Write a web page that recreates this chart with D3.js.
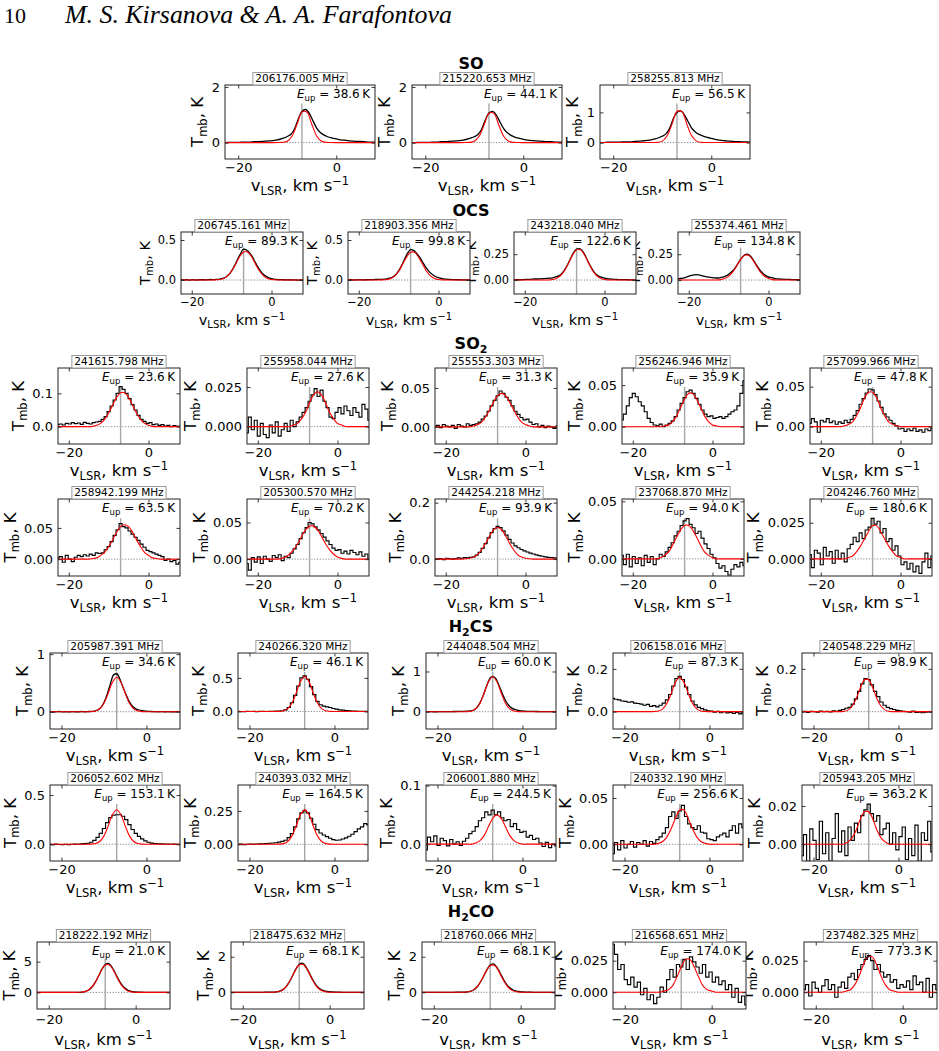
<!DOCTYPE html>
<html>
<head>
<meta charset="utf-8">
<script src="https://cdn.jsdelivr.net/npm/d3@7"></script>
<style>
  body { margin: 0; background: #fff; }
  text { font-family: "DejaVu Sans", sans-serif; }
  text.serif { font-family: "Liberation Serif", "DejaVu Serif", serif; }
</style>
</head>
<body>
<svg id="chart" width="939" height="1051"></svg>
<script>
// spectral axis
const velDomain = [-22.7, 7.9];
const vSys = -7;
const xTickVals = [-20, 0];
const chanVel = [-22.75,-22,-21.25,-20.5,-19.75,-19,-18.25,-17.5,-16.75,-16,
  -15.25,-14.5,-13.75,-13,-12.25,-11.5,-10.75,-10,-9.25,-8.5,
  -7.75,-7,-6.25,-5.5,-4.75,-4,-3.25,-2.5,-1.75,-1,
  -0.25,0.5,1.25,2,2.75,3.5,4.25,5,5.75,6.5,
  7.25,8];
const fitVel = [-16,-15,-14,-13,-12,-11,-10,-9,-8,-7,-6,-5,-4,-3,-2,-1,0,1,2,3];

// ---- SO ----
const soFreq = ["206176.005", "215220.653", "258255.813"];
const soEup = ["38.6", "44.1", "56.5"];
const soYDomain = [[-0.59, 2.07], [-0.59, 2.07], [-0.545, 1.91]];
const soYTicks = [[0, 2], [0, 2], [0, 1]];
const soYTickLabels = [["0", "2"], ["0", "2"], ["0", "1"]];
const soSpec = [
  [0.00,0.01,0.01,0.01,0.01,0.02,0.02,0.02,0.03,0.03,
   0.04,0.05,0.06,0.07,0.09,0.12,0.16,0.22,0.30,0.50,
   0.85,1.12,1.19,1.05,0.78,0.52,0.36,0.27,0.21,0.17,
   0.14,0.11,0.09,0.08,0.06,0.05,0.04,0.04,0.03,0.02,
   0.02,0.01],
  [0.00,0.00,0.01,0.01,0.01,0.01,0.02,0.02,0.03,0.03,
   0.04,0.05,0.06,0.07,0.09,0.12,0.16,0.21,0.29,0.48,
   0.81,1.06,1.12,0.99,0.74,0.50,0.35,0.26,0.20,0.16,
   0.13,0.10,0.08,0.07,0.06,0.05,0.04,0.03,0.03,0.02,
   0.02,0.01],
  [0.00,0.00,0.01,0.01,0.01,0.01,0.02,0.02,0.02,0.03,
   0.04,0.05,0.06,0.07,0.09,0.12,0.16,0.21,0.29,0.47,
   0.79,1.00,1.05,0.93,0.70,0.48,0.35,0.27,0.22,0.18,
   0.15,0.12,0.09,0.07,0.06,0.05,0.04,0.03,0.03,0.02,
   0.02,0.01]
];
const soFit = [
  [0,0,0,0,0.001,0.007,0.051,0.239,0.66,1.097,1.097,0.66,0.239,0.051,0.007,0.001,0,0,0,0],
  [0,0,0,0,0.001,0.006,0.049,0.228,0.632,1.051,1.051,0.632,0.228,0.049,0.006,0.001,0,0,0,0],
  [0,0,0,0,0.001,0.006,0.048,0.224,0.62,1.032,1.032,0.62,0.224,0.048,0.006,0.001,0,0,0,0]
];

// ---- OCS ----
const ocsFreq = ["206745.161", "218903.356", "243218.040", "255374.461"];
const ocsEup = ["89.3", "99.8", "122.6", "134.8"];
const ocsYDomain = [[-0.175, 0.6], [-0.175, 0.6], [-0.135, 0.465], [-0.135, 0.465]];
const ocsYTicks = [[0, 0.5], [0, 0.5], [0, 0.25], [0, 0.25]];
const ocsYTickLabels = [["0.0", "0.5"], ["0.0", "0.5"], ["0.00", "0.25"], ["0.00", "0.25"]];
const ocsSpec = [
  [0.005,0.000,0.003,-0.002,0.004,0.000,0.002,0.005,0.001,0.004,
   0.006,0.005,0.008,0.012,0.020,0.035,0.065,0.115,0.180,0.260,
   0.330,0.385,0.375,0.340,0.285,0.215,0.150,0.095,0.058,0.035,
   0.020,0.012,0.008,0.005,0.004,0.002,0.003,0.000,0.002,-0.002,
   0.001,0.000],
  [0.000,0.003,0.000,0.002,0.004,0.001,0.003,0.004,0.004,0.006,
   0.008,0.007,0.010,0.014,0.022,0.036,0.066,0.115,0.180,0.262,
   0.335,0.380,0.370,0.335,0.285,0.225,0.165,0.115,0.078,0.050,
   0.032,0.022,0.014,0.010,0.007,0.005,0.004,0.003,0.002,0.001,
   0.000,0.000],
  [0.003,0.004,0.002,0.005,0.006,0.006,0.008,0.010,0.010,0.012,
   0.014,0.016,0.018,0.022,0.030,0.040,0.062,0.098,0.150,0.210,
   0.265,0.300,0.305,0.280,0.230,0.170,0.115,0.072,0.045,0.030,
   0.020,0.014,0.010,0.008,0.006,0.005,0.004,0.004,0.003,0.002,
   0.002,0.002],
  [0.010,0.015,0.020,0.030,0.040,0.048,0.052,0.050,0.042,0.035,
   0.030,0.025,0.022,0.020,0.022,0.028,0.038,0.055,0.080,0.110,
   0.155,0.200,0.235,0.250,0.240,0.205,0.160,0.115,0.078,0.050,
   0.034,0.025,0.018,0.012,0.010,0.008,0.006,0.006,0.005,0.004,
   0.004,0.003]
];
const ocsFit = [
  [0,0,0.002,0.007,0.02,0.052,0.112,0.198,0.291,0.351,0.351,0.291,0.198,0.112,0.052,0.02,0.007,0.002,0,0],
  [0,0,0.002,0.006,0.02,0.051,0.11,0.196,0.286,0.346,0.346,0.286,0.196,0.11,0.051,0.02,0.006,0.002,0,0],
  [0,0,0.001,0.005,0.017,0.044,0.093,0.165,0.242,0.293,0.293,0.242,0.165,0.093,0.044,0.017,0.005,0.001,0,0],
  [0,0,0,0.001,0.004,0.014,0.036,0.076,0.135,0.198,0.239,0.239,0.198,0.135,0.076,0.036,0.014,0.004,0.001,0]
];

// ---- SO2 ----
const so2Freq = ["241615.798", "255958.044", "255553.303", "256246.946", "257099.966",
  "258942.199", "205300.570", "244254.218", "237068.870", "204246.760"];
const so2Eup = ["23.6", "27.6", "31.3", "35.9", "47.8", "63.5", "70.2", "93.9", "94.0", "180.6"];
const so2YDomain = [[-0.052, 0.176], [-0.011, 0.037], [-0.022, 0.0756], [-0.0208, 0.0705], [-0.0217, 0.0733],
  [-0.027, 0.0963], [-0.023, 0.082], [-0.06, 0.213], [-0.0149, 0.052], [-0.0118, 0.0414]];
const so2YTicks = [[0, 0.1], [0, 0.025], [0, 0.05], [0, 0.05], [0, 0.05],
  [0, 0.05], [0, 0.05], [0, 0.2], [0, 0.05], [0, 0.025]];
const so2YTickLabels = [["0.0", "0.1"], ["0.000", "0.025"], ["0.00", "0.05"], ["0.00", "0.05"], ["0.00", "0.05"],
  ["0.00", "0.05"], ["0.00", "0.05"], ["0.0", "0.2"], ["0.00", "0.05"], ["0.000", "0.025"]];
const so2Spec = [
  [0.006,0.008,0.005,0.010,0.008,0.012,0.009,0.011,0.007,0.013,
   0.010,0.008,0.012,0.014,0.016,0.022,0.030,0.045,0.062,0.080,
   0.100,0.120,0.112,0.100,0.084,0.066,0.050,0.034,0.022,0.016,
   0.010,0.012,0.006,0.008,0.004,0.006,0.002,0.004,0.000,0.003,
   0.001,0.002],
  [-0.004,0.006,-0.002,0.004,-0.006,0.002,-0.005,-0.007,0.001,-0.004,
   0.003,-0.006,-0.002,0.002,-0.003,0.004,0.000,0.003,0.006,0.009,
   0.012,0.016,0.020,0.024,0.019,0.023,0.016,0.012,0.006,0.005,
   0.009,0.012,0.008,0.013,0.010,0.007,0.012,0.009,0.006,0.014,
   0.011,0.004],
  [0.000,0.002,-0.001,0.003,0.001,0.000,0.002,-0.002,0.003,0.001,
   0.000,0.004,0.002,0.003,0.004,0.006,0.010,0.014,0.020,0.027,
   0.034,0.040,0.046,0.043,0.038,0.034,0.027,0.020,0.016,0.012,
   0.009,0.010,0.006,0.003,0.004,0.000,0.002,-0.001,0.001,0.000,
   -0.002,0.001],
  [0.008,0.015,0.025,0.035,0.040,0.036,0.030,0.025,0.018,0.010,
   0.005,0.002,0.001,0.003,0.000,0.002,0.004,0.007,0.012,0.020,
   0.028,0.035,0.042,0.044,0.040,0.034,0.027,0.020,0.015,0.012,
   0.013,0.010,0.011,0.012,0.010,0.012,0.015,0.018,0.020,0.025,
   0.040,0.055],
  [0.004,0.010,0.006,-0.007,0.008,0.006,0.010,0.005,0.007,0.003,
   0.006,0.004,0.008,0.005,0.009,0.014,0.020,0.028,0.035,0.042,
   0.047,0.046,0.040,0.032,0.024,0.016,0.012,0.008,0.004,0.001,
   -0.003,-0.002,-0.006,-0.003,-0.005,-0.002,-0.006,-0.004,-0.007,-0.003,
   -0.005,-0.002],
  [0.002,0.004,-0.005,0.006,0.000,-0.004,0.003,0.006,0.004,0.007,
   0.005,0.008,0.006,0.010,0.009,0.010,0.015,0.020,0.028,0.038,
   0.047,0.057,0.052,0.050,0.045,0.040,0.035,0.030,0.024,0.019,
   0.014,0.012,0.010,0.008,0.006,0.004,-0.002,0.000,-0.004,-0.002,
   -0.008,-0.005],
  [-0.006,-0.015,0.002,-0.004,0.003,-0.006,0.004,0.000,-0.003,0.005,
   0.002,0.006,-0.002,0.004,0.002,0.008,0.014,0.020,0.028,0.036,
   0.043,0.050,0.048,0.044,0.040,0.035,0.030,0.025,0.020,0.015,
   0.012,0.013,0.008,0.011,0.007,0.012,0.009,0.006,0.010,0.004,
   0.007,0.000],
  [0.001,0.000,0.002,-0.002,0.003,0.001,0.000,0.002,0.004,0.003,
   0.005,0.004,0.006,0.008,0.014,0.024,0.038,0.055,0.075,0.094,
   0.108,0.116,0.112,0.100,0.085,0.070,0.057,0.047,0.040,0.034,
   0.029,0.025,0.021,0.018,0.015,0.012,0.010,0.008,0.006,0.005,
   0.004,0.003],
  [0.003,-0.005,0.004,-0.007,0.002,-0.004,0.001,-0.006,0.003,-0.003,
   0.002,-0.005,0.000,0.004,0.002,0.006,0.010,0.014,0.020,0.024,
   0.029,0.033,0.035,0.030,0.027,0.022,0.024,0.018,0.013,0.009,
   0.004,0.001,-0.004,-0.008,-0.006,-0.011,-0.014,-0.009,-0.005,-0.007,
   -0.003,-0.006],
  [0.003,-0.006,0.006,0.004,-0.004,0.008,0.002,0.005,-0.003,0.006,
   0.000,0.004,-0.002,0.007,0.010,0.015,0.012,0.018,0.014,0.020,
   0.022,0.028,0.024,0.026,0.018,0.021,0.012,0.014,0.006,0.009,
   0.002,-0.004,-0.002,-0.007,-0.003,-0.009,-0.005,-0.010,-0.002,0.004,
   -0.006,0.002]
];
const so2Fit = [
  [0,0,0.001,0.004,0.01,0.022,0.041,0.064,0.088,0.102,0.102,0.088,0.064,0.041,0.022,0.01,0.004,0.001,0,0],
  [0,0,0,0,0,0.001,0.002,0.005,0.009,0.015,0.02,0.022,0.02,0.015,0.009,0.005,0.002,0.001,0,0],
  [0,0,0,0.001,0.003,0.006,0.013,0.022,0.032,0.04,0.043,0.04,0.032,0.022,0.013,0.006,0.003,0.001,0,0],
  [0,0,0,0,0.001,0.002,0.006,0.013,0.023,0.033,0.04,0.04,0.033,0.023,0.013,0.006,0.002,0.001,0,0],
  [0,0,0.001,0.003,0.006,0.014,0.024,0.036,0.043,0.043,0.036,0.024,0.014,0.006,0.003,0.001,0,0,0,0],
  [0,0,0.001,0.002,0.006,0.011,0.02,0.031,0.043,0.052,0.055,0.052,0.043,0.031,0.02,0.011,0.006,0.002,0.001,0],
  [0,0,0.001,0.003,0.007,0.013,0.021,0.031,0.04,0.045,0.045,0.04,0.031,0.021,0.013,0.007,0.003,0.001,0,0],
  [0,0.001,0.003,0.007,0.016,0.033,0.056,0.082,0.104,0.112,0.104,0.082,0.056,0.033,0.016,0.007,0.003,0.001,0,0],
  [0,0,0,0.001,0.003,0.006,0.012,0.019,0.025,0.029,0.029,0.025,0.019,0.012,0.006,0.003,0.001,0,0,0],
  [0,0,0,0.001,0.002,0.005,0.009,0.014,0.019,0.023,0.023,0.019,0.014,0.009,0.005,0.002,0.001,0,0,0]
];

// ---- H2CS ----
const h2csFreq = ["205987.391", "240266.320", "244048.504", "206158.016", "240548.229",
  "206052.602", "240393.032", "206001.880", "240332.190", "205943.205"];
const h2csEup = ["34.6", "46.1", "60.0", "87.3", "98.9", "153.1", "164.5", "244.5", "256.6", "363.2"];
const h2csYDomain = [[-0.30, 1.02], [-0.26, 0.87], [-0.43, 1.46], [-0.081, 0.274], [-0.081, 0.274],
  [-0.17, 0.602], [-0.125, 0.444], [-0.0288, 0.101], [-0.018, 0.064], [-0.0088, 0.031]];
const h2csYTicks = [[0, 1], [0, 0.5], [0, 1], [0, 0.2], [0, 0.2],
  [0, 0.5], [0, 0.25], [0, 0.1], [0, 0.05], [0, 0.02]];
const h2csYTickLabels = [["0", "1"], ["0.0", "0.5"], ["0", "1"], ["0.0", "0.2"], ["0.0", "0.2"],
  ["0.0", "0.5"], ["0.00", "0.25"], ["0.0", "0.1"], ["0.00", "0.05"], ["0.00", "0.02"]];
const h2csSpec = [
  [0.005,-0.005,0.000,0.004,-0.003,0.002,-0.004,0.003,0.000,-0.002,
   0.004,0.000,0.003,0.006,0.012,0.030,0.070,0.160,0.300,0.480,
   0.640,0.660,0.570,0.420,0.290,0.170,0.090,0.050,0.030,0.018,
   0.010,0.006,0.004,0.002,0.000,0.003,-0.002,0.001,0.000,-0.003,
   0.002,0.000],
  [0.003,0.000,-0.002,0.003,0.000,0.002,-0.002,0.001,0.003,0.000,
   0.004,0.003,0.005,0.008,0.012,0.025,0.060,0.130,0.240,0.380,
   0.500,0.530,0.480,0.370,0.250,0.150,0.100,0.080,0.070,0.060,
   0.045,0.035,0.025,0.020,0.015,0.010,0.008,0.006,0.004,0.003,
   0.002,0.002],
  [0.000,0.002,0.000,-0.003,0.002,0.000,0.003,0.002,0.004,0.005,
   0.006,0.008,0.010,0.014,0.020,0.040,0.100,0.220,0.400,0.620,
   0.810,0.880,0.820,0.650,0.450,0.280,0.160,0.090,0.055,0.035,
   0.022,0.015,0.010,0.008,0.006,0.005,0.004,0.003,0.003,0.002,
   0.002,0.001],
  [0.062,0.058,0.055,0.050,0.048,0.044,0.046,0.040,0.038,0.035,
   0.030,0.034,0.025,0.028,0.022,0.030,0.040,0.055,0.080,0.120,
   0.155,0.165,0.150,0.115,0.080,0.050,0.032,0.020,0.014,0.008,
   0.004,0.003,-0.002,0.002,-0.005,0.000,-0.006,-0.003,-0.008,-0.004,
   -0.010,-0.006],
  [0.000,0.002,-0.003,0.002,0.000,-0.002,0.003,0.000,0.002,-0.001,
   0.004,0.002,0.006,0.010,0.016,0.020,0.035,0.060,0.095,0.130,
   0.155,0.150,0.125,0.095,0.070,0.045,0.030,0.020,0.014,0.010,
   0.006,0.004,0.002,0.000,-0.002,0.003,-0.004,-0.002,-0.005,-0.002,
   0.000,-0.002],
  [0.000,-0.003,0.002,-0.002,-0.005,0.000,-0.004,0.000,0.002,0.000,
   0.004,0.006,0.010,0.020,0.040,0.070,0.110,0.160,0.220,0.270,
   0.295,0.300,0.300,0.285,0.250,0.200,0.150,0.110,0.080,0.055,
   0.035,0.020,0.012,0.008,0.005,0.004,0.002,0.003,0.000,0.002,
   0.000,0.000],
  [0.000,0.001,-0.002,0.000,0.002,0.000,0.002,0.003,0.004,0.006,
   0.008,0.010,0.012,0.016,0.022,0.030,0.050,0.080,0.130,0.190,
   0.235,0.250,0.235,0.195,0.150,0.110,0.085,0.070,0.058,0.045,
   0.035,0.030,0.032,0.040,0.048,0.060,0.075,0.095,0.115,0.130,
   0.155,0.145],
  [-0.010,0.012,0.004,0.014,-0.002,0.010,0.006,-0.003,0.008,0.000,
   0.004,-0.002,0.005,0.010,0.018,0.022,0.030,0.040,0.045,0.055,
   0.050,0.058,0.050,0.055,0.045,0.040,0.042,0.030,0.035,0.025,
   0.020,0.022,0.012,0.015,0.008,0.010,0.002,-0.004,0.003,-0.006,
   0.000,-0.003],
  [-0.010,0.002,-0.006,0.004,-0.004,0.000,0.003,-0.003,0.002,0.000,
   0.004,-0.002,0.003,0.001,0.005,0.008,0.012,0.018,0.030,0.035,
   0.028,0.036,0.042,0.030,0.022,0.018,0.016,0.020,0.013,0.012,
   0.006,0.005,0.004,0.008,0.010,0.012,0.008,0.015,0.020,0.012,
   0.022,0.018],
  [-0.006,0.005,-0.009,0.008,0.002,-0.008,0.012,-0.005,0.006,-0.009,
   0.003,0.016,-0.004,0.007,-0.006,0.009,0.002,0.011,0.006,0.015,
   0.018,0.021,0.016,0.012,0.015,0.005,0.008,0.011,0.000,0.006,
   -0.003,0.004,0.009,-0.008,0.003,-0.006,0.010,-0.009,0.006,0.002,
   0.012,-0.004]
];
const h2csFit = [
  [0,0,0,0.002,0.012,0.049,0.146,0.32,0.513,0.6,0.513,0.32,0.146,0.049,0.012,0.002,0,0,0,0],
  [0,0,0,0.002,0.01,0.042,0.126,0.277,0.445,0.52,0.445,0.277,0.126,0.042,0.01,0.002,0,0,0,0],
  [0,0,0,0.003,0.017,0.07,0.211,0.464,0.744,0.87,0.744,0.464,0.211,0.07,0.017,0.003,0,0,0,0],
  [0,0,0,0.001,0.003,0.013,0.039,0.085,0.137,0.16,0.137,0.085,0.039,0.013,0.003,0.001,0,0,0,0],
  [0,0,0,0.001,0.006,0.023,0.058,0.109,0.149,0.149,0.109,0.058,0.023,0.006,0.001,0,0,0,0,0],
  [0,0,0,0.001,0.007,0.028,0.085,0.187,0.299,0.35,0.299,0.187,0.085,0.028,0.007,0.001,0,0,0,0],
  [0,0,0,0.001,0.005,0.021,0.063,0.139,0.222,0.26,0.222,0.139,0.063,0.021,0.005,0.001,0,0,0,0],
  [0,0,0,0,0,0.002,0.006,0.015,0.03,0.044,0.05,0.044,0.03,0.015,0.006,0.002,0,0,0,0],
  [0,0,0,0,0.001,0.003,0.008,0.017,0.028,0.037,0.037,0.028,0.017,0.008,0.003,0.001,0,0,0,0],
  [0,0,0,0,0.001,0.003,0.007,0.013,0.017,0.017,0.013,0.007,0.003,0.001,0,0,0,0,0,0]
];

// ---- H2CO ----
const h2coFreq = ["218222.192", "218475.632", "218760.066", "216568.651", "237482.325"];
const h2coEup = ["21.0", "68.1", "68.1", "174.0", "773.3"];
const h2coYDomain = [[-2.7, 8.2], [-0.94, 2.83], [-0.94, 2.83], [-0.0133, 0.0398], [-0.0133, 0.0398]];
const h2coYTicks = [[0, 5], [0, 2], [0, 2], [0, 0.025], [0, 0.025]];
const h2coYTickLabels = [["0", "5"], ["0", "2"], ["0", "2"], ["0.000", "0.025"], ["0.000", "0.025"]];
const h2coSpec = [
  [0.00,0.01,0.00,0.00,0.01,0.00,0.00,0.01,0.00,0.01,
   0.01,0.01,0.01,0.02,0.06,0.18,0.43,0.92,1.70,2.72,
   3.78,4.52,4.70,4.15,3.20,2.18,1.30,0.70,0.35,0.17,
   0.09,0.05,0.03,0.02,0.02,0.01,0.01,0.01,0.00,0.00,
   0.00,0.00],
  [0.00,0.00,0.00,0.00,0.00,0.00,0.00,0.00,0.00,0.00,
   0.00,0.01,0.01,0.01,0.02,0.06,0.15,0.32,0.60,0.95,
   1.32,1.58,1.64,1.45,1.12,0.76,0.45,0.24,0.12,0.06,
   0.03,0.02,0.01,0.01,0.00,0.00,0.00,0.00,0.00,0.00,
   0.00,0.00],
  [0.00,0.00,0.00,0.00,0.00,0.00,0.00,0.00,0.00,0.00,
   0.00,0.01,0.01,0.01,0.02,0.06,0.14,0.31,0.58,0.92,
   1.28,1.53,1.60,1.42,1.10,0.75,0.45,0.25,0.13,0.07,
   0.04,0.02,0.01,0.01,0.00,0.00,0.00,0.00,0.00,0.00,
   0.00,0.00],
  [0.038,0.030,0.018,0.022,0.010,0.006,0.012,0.004,0.008,-0.002,
   0.003,-0.006,-0.002,-0.009,-0.004,0.004,0.000,0.010,0.018,0.012,
   0.022,0.020,0.026,0.018,0.028,0.024,0.020,0.015,0.022,0.012,
   0.016,0.008,0.012,0.006,0.009,0.002,0.006,-0.004,0.003,-0.008,
   -0.003,-0.010],
  [0.002,0.006,-0.003,0.008,0.003,0.000,0.005,0.010,0.002,0.006,
   -0.004,0.004,0.008,0.003,0.012,0.015,0.010,0.018,0.022,0.026,
   0.029,0.025,0.018,0.022,0.016,0.012,0.014,0.008,0.010,0.003,
   0.006,0.004,0.009,0.002,0.013,0.006,0.008,0.000,0.011,-0.004,
   0.006,0.002]
];
const h2coFit = [
  [0,0,0.003,0.018,0.087,0.322,0.925,2.029,3.427,4.453,4.453,3.427,2.029,0.925,0.322,0.087,0.018,0.003,0,0],
  [0,0,0.001,0.006,0.03,0.112,0.322,0.706,1.192,1.549,1.549,1.192,0.706,0.322,0.112,0.03,0.006,0.001,0,0],
  [0,0,0.001,0.006,0.03,0.109,0.314,0.688,1.162,1.51,1.51,1.162,0.688,0.314,0.109,0.03,0.006,0.001,0,0],
  [0,0,0,0,0,0.001,0.002,0.005,0.012,0.02,0.026,0.026,0.02,0.012,0.005,0.002,0.001,0,0,0],
  [0,0,0,0.001,0.002,0.006,0.013,0.022,0.028,0.028,0.022,0.013,0.006,0.002,0.001,0,0,0,0,0]
];

// table built from the arrays above
const molecules = {
  so:   {freq: soFreq, eup: soEup, yDomain: soYDomain, yTicks: soYTicks, yTickLabels: soYTickLabels, spec: soSpec, fit: soFit},
  ocs:  {freq: ocsFreq, eup: ocsEup, yDomain: ocsYDomain, yTicks: ocsYTicks, yTickLabels: ocsYTickLabels, spec: ocsSpec, fit: ocsFit},
  so2:  {freq: so2Freq, eup: so2Eup, yDomain: so2YDomain, yTicks: so2YTicks, yTickLabels: so2YTickLabels, spec: so2Spec, fit: so2Fit},
  h2cs: {freq: h2csFreq, eup: h2csEup, yDomain: h2csYDomain, yTicks: h2csYTicks, yTickLabels: h2csYTickLabels, spec: h2csSpec, fit: h2csFit},
  h2co: {freq: h2coFreq, eup: h2coEup, yDomain: h2coYDomain, yTicks: h2coYTicks, yTickLabels: h2coYTickLabels, spec: h2coSpec, fit: h2coFit}
};

// page layout (pixels); fs scales the axis fonts of a row,
// smooth lists the panels whose fine-channel spectra look like a continuous line
const titles = [
  {parts: [["SO", false]], y: 68.5},
  {parts: [["OCS", false]], y: 215.5},
  {parts: [["SO", false], ["2", true]], y: 349},
  {parts: [["H", false], ["2", true], ["CS", false]], y: 632},
  {parts: [["H", false], ["2", true], ["CO", false]], y: 917}
];
const rowLayout = [
  {mol: "so",   from: 0, to: 3,  top: 85,  h: 74, w: 150, fs: 1,    tickPad: 3.5, xlabOff: 32, smooth: [0, 1, 2], lefts: [225, 412, 600]},
  {mol: "ocs",  from: 0, to: 4,  top: 232, h: 62, w: 122, fs: 0.88, tickPad: 4,   xlabOff: 31, smooth: [0, 1, 2, 3], lefts: [181, 348, 514, 678]},
  {mol: "so2",  from: 0, to: 5,  top: 368, h: 76, w: 122, fs: 1,    tickPad: 3.5, xlabOff: 32, smooth: [], lefts: [58, 247, 435, 622, 810]},
  {mol: "so2",  from: 5, to: 10, top: 499, h: 77, w: 122, fs: 1,    tickPad: 3.5, xlabOff: 32, smooth: [], lefts: [58, 247, 435, 622, 810]},
  {mol: "h2cs", from: 0, to: 5,  top: 653, h: 76, w: 130, fs: 1,    tickPad: 3.5, xlabOff: 32, smooth: [0, 2], lefts: [50, 238, 426, 613, 802]},
  {mol: "h2cs", from: 5, to: 10, top: 785, h: 76, w: 130, fs: 1,    tickPad: 3.5, xlabOff: 32, smooth: [], lefts: [50, 238, 426, 613, 802]},
  {mol: "h2co", from: 0, to: 5,  top: 942, h: 67, w: 133, fs: 1,    tickPad: 5.5, xlabOff: 36, smooth: [0, 1, 2], lefts: [37, 231, 422, 613, 804]}
];

const svg = d3.select("#chart");
svg.append("rect").attr("width", 939).attr("height", 1051).attr("fill", "#fff");

// running header
svg.append("text").attr("class", "serif").attr("x", 4).attr("y", 23).attr("font-size", 22).text("10");
const author = svg.append("text").attr("class", "serif").attr("x", 65).attr("y", 23)
  .attr("font-style", "italic").attr("font-size", 22)
  .text("M. S. Kirsanova & A. A. Farafontova");
const authorLen = author.node().getComputedTextLength();
author.attr("font-size", 22 * 387 / authorLen);

// molecule titles
titles.forEach(t => {
  const tx = svg.append("text").attr("x", 471).attr("y", t.y).attr("text-anchor", "middle")
    .attr("font-size", 16).attr("font-weight", "bold");
  let shifted = false;
  t.parts.forEach(([s, sub]) => {
    if (sub) { tx.append("tspan").attr("font-size", 11).attr("dy", 3.5).text(s); shifted = true; }
    else { tx.append("tspan").attr("dy", shifted ? -3.5 : 0).text(s); shifted = false; }
  });
});

let clipCount = 0;

function drawPanel(p) {
  const fs = p.fs;
  const g = svg.append("g").attr("transform", `translate(${p.x},${p.y})`);
  const x = d3.scaleLinear().domain(velDomain).range([0, p.w]);
  const y = d3.scaleLinear().domain(p.yDomain).range([p.h, 0]);

  g.append("rect").attr("width", p.w).attr("height", p.h).attr("fill", "#fff");

  const clipId = "clip" + (clipCount++);
  g.append("clipPath").attr("id", clipId)
    .append("rect").attr("width", p.w).attr("height", p.h);
  const plot = g.append("g").attr("clip-path", `url(#${clipId})`);

  // zero level
  plot.append("line")
    .attr("x1", 0).attr("x2", p.w).attr("y1", y(0)).attr("y2", y(0))
    .attr("stroke", "#666").attr("stroke-width", 0.8).attr("stroke-dasharray", "1.2,1.6");

  // systemic velocity marker (up to 3/4 of the axes height)
  plot.append("line")
    .attr("x1", x(vSys)).attr("x2", x(vSys)).attr("y1", p.h).attr("y2", p.h * 0.25)
    .attr("stroke", "#a6a6a6").attr("stroke-width", 1.4);

  // observed spectrum
  const chans = p.spec.map((t, i) => [chanVel[i], t]);
  plot.append("path").datum(chans)
    .attr("d", d3.line().x(d => x(d[0])).y(d => y(d[1]))
      .curve(p.smooth ? d3.curveMonotoneX : d3.curveStep))
    .attr("fill", "none").attr("stroke", "#000").attr("stroke-width", p.smooth ? 1.3 : 1.15);

  // gaussian fit
  const fitPts = [[velDomain[0], 0]].concat(fitVel.map((v, i) => [v, p.fit[i]]), [[velDomain[1], 0]]);
  plot.append("path").datum(fitPts)
    .attr("d", d3.line().x(d => x(d[0])).y(d => y(d[1])).curve(d3.curveCatmullRom.alpha(0.5)))
    .attr("fill", "none").attr("stroke", "#ff0000").attr("stroke-width", 1.1);

  // frame
  g.append("rect").attr("width", p.w).attr("height", p.h)
    .attr("fill", "none").attr("stroke", "#222").attr("stroke-width", 1);

  // axes: inward ticks on all four sides
  const xAxis = d3.axisBottom(x).tickValues(xTickVals).tickSize(-3.5).tickPadding(p.tickPad);
  g.append("g").attr("transform", `translate(0,${p.h})`).call(xAxis);
  g.append("g").call(d3.axisTop(x).tickValues(xTickVals).tickSize(-3.5).tickFormat(""));
  const yAxis = d3.axisLeft(y).tickValues(p.yTicks).tickSize(-3.5).tickPadding(5)
    .tickFormat((d, i) => p.yTickLabels[i]);
  const yg = g.append("g").call(yAxis);
  g.append("g").attr("transform", `translate(${p.w},0)`)
    .call(d3.axisRight(y).tickValues(p.yTicks).tickSize(-3.5).tickFormat(""));

  g.selectAll(".domain").remove();
  g.selectAll(".tick line").attr("stroke", "#222").attr("stroke-width", 0.9);
  g.selectAll(".tick text").attr("font-size", 13 * fs).attr("fill", "#000");

  // y label placed left of the widest tick label
  let tickW = 0;
  yg.selectAll(".tick text").each(function () { tickW = Math.max(tickW, this.getComputedTextLength()); });
  const lx = -3.5 - 5 - tickW - 5 * fs;
  const yl = g.append("text").attr("transform", `translate(${lx},${p.h / 2}) rotate(-90)`)
    .attr("text-anchor", "middle").attr("font-size", 16.5 * fs);
  yl.append("tspan").text("T");
  yl.append("tspan").attr("font-size", 11.5 * fs).attr("dy", 3.5 * fs).text("mb");
  yl.append("tspan").attr("dy", -3.5 * fs).text(", K");

  // x label
  const xl = g.append("text").attr("x", p.w / 2).attr("y", p.h + p.xlabOff)
    .attr("text-anchor", "middle").attr("font-size", 16.5 * fs);
  xl.append("tspan").text("v");
  xl.append("tspan").attr("font-size", 11.5 * fs).attr("dy", 3.5 * fs).text("LSR");
  xl.append("tspan").attr("dy", -3.5 * fs).text(", km s");
  xl.append("tspan").attr("font-size", 11.5 * fs).attr("dy", -6 * fs).text("\u22121");

  // frequency box
  const ft = g.append("text").attr("x", p.w / 2).attr("y", -2.8).attr("text-anchor", "middle")
    .attr("font-size", 10.5).text(`${p.freq} MHz`);
  const fw = ft.node().getComputedTextLength();
  g.insert("rect", () => ft.node())
    .attr("x", p.w / 2 - fw / 2 - 2.5).attr("y", -12.5).attr("width", fw + 5).attr("height", 12.5)
    .attr("fill", "#fff").attr("stroke", "#9a9a9a").attr("stroke-width", 1);

  // upper level energy
  const et = g.append("text").attr("x", p.w - 5).attr("y", 13).attr("text-anchor", "end").attr("font-size", 12);
  et.append("tspan").attr("font-style", "italic").text("E");
  et.append("tspan").attr("font-size", 8.5).attr("dy", 2.5).text("up");
  et.append("tspan").attr("dy", -2.5).text(` = ${p.eup}\u2009K`);
}

rowLayout.forEach(row => {
  const m = molecules[row.mol];
  // right-to-left so that a left axes sits on top of its neighbour's y label
  for (let k = row.to - 1; k >= row.from; k--) {
    const j = k - row.from;
    drawPanel({
      x: row.lefts[j], y: row.top, w: row.w, h: row.h, fs: row.fs,
      tickPad: row.tickPad, xlabOff: row.xlabOff, smooth: row.smooth.includes(j),
      freq: m.freq[k], eup: m.eup[k], yDomain: m.yDomain[k],
      yTicks: m.yTicks[k], yTickLabels: m.yTickLabels[k],
      spec: m.spec[k], fit: m.fit[k]
    });
  }
});
</script>
</body>
</html>
